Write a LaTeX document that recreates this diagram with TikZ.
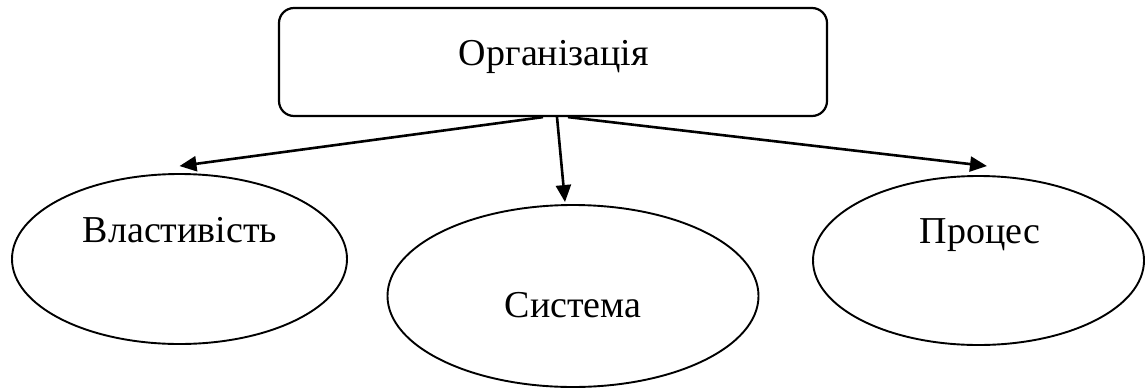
\documentclass[tikz,border=0pt]{standalone}
\usepackage{fontspec}
\setmainfont{Liberation Serif}
\usetikzlibrary{shapes.geometric,arrows.meta}
\begin{document}
\begin{tikzpicture}[x=1pt,y=-1pt,
  box/.style={draw,rounded corners=15pt,line width=2.2pt,inner sep=0pt},
  ell/.style={draw,ellipse,line width=1.9pt,inner sep=0pt},
  arr/.style={line width=2.6pt,-{Triangle[length=17pt,width=15pt]}},
  lbl/.style={font=\fontsize{38}{42}\selectfont,inner sep=0pt,anchor=base}]
\useasboundingbox (0,0) rectangle (1145,389);
\node[box,minimum width=548pt,minimum height=108pt] (org) at (553,62) {};
\node[lbl] (torg) at (554,65) {Організація};
\node[ell,minimum width=335pt,minimum height=170pt] (e1) at (179.5,259) {};
\node[ell,minimum width=371pt,minimum height=182pt] (e2) at (573,296) {};
\node[ell,minimum width=331pt,minimum height=169pt] (e3) at (978.5,260.5) {};
\node[lbl] (t1) at (180,242) {Властивість};
\node[lbl] (t2) at (573,317) {Система};
\node[lbl] (t3) at (980,243) {Процес};
\draw[arr] ([xshift=-10pt]org.south) -- ([yshift=7pt]e1.north);
\draw[arr] ([xshift=4pt]org.south) -- ([xshift=-8pt,yshift=2pt]e2.north);
\draw[arr] ([xshift=15pt]org.south) -- ([xshift=8.5pt,yshift=9pt]e3.north);
\end{tikzpicture}
\end{document}
